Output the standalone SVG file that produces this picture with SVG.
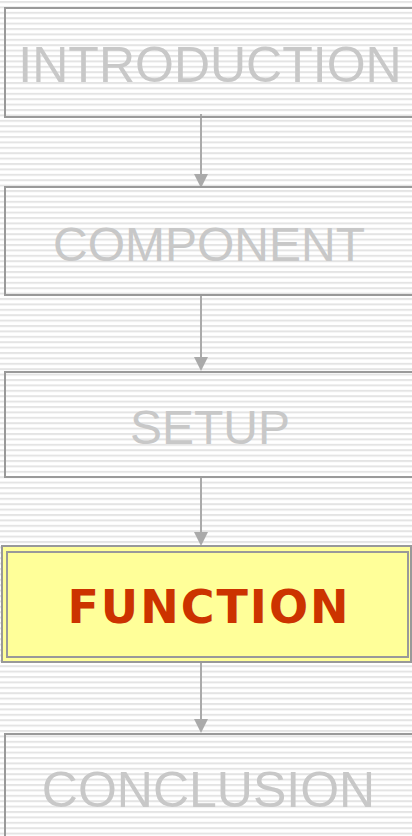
<svg xmlns="http://www.w3.org/2000/svg" width="412" height="836" viewBox="0 0 412 836">
  <defs>
    <pattern id="stripes" patternUnits="userSpaceOnUse" x="0" y="1" width="412" height="5.4">
      <rect x="0" y="0" width="412" height="2" fill="#e4e4e4"/>
    </pattern>
    <style>
      .step { fill: none; stroke: #999999; stroke-width: 2; }
      .label { font-family: "Liberation Sans", Arial, sans-serif; font-size: 48px; fill: #c8c8c8; text-anchor: middle; }
      .wide { font-size: 50px; }
      .active-outer { fill: #ffff99; stroke: #999999; stroke-width: 2; }
      .active-inner { fill: none; stroke: #999999; stroke-width: 2; }
      .active-label { font-family: "DejaVu Sans", Verdana, sans-serif; font-weight: bold; font-size: 46px; fill: #cc3300; text-anchor: middle; letter-spacing: 2px; }
      .link { stroke: #aaaaaa; stroke-width: 2; fill: none; }
      .head { fill: #aaaaaa; }
    </style>
  </defs>

  <!-- striped backdrop -->
  <rect x="0" y="0" width="412" height="836" fill="#ffffff"/>
  <rect x="0" y="0" width="412" height="836" fill="url(#stripes)"/>

  <!-- connectors -->
  <g id="connectors">
    <line class="link" x1="201" y1="114" x2="201" y2="176"/>
    <path class="head" d="M194,174 L208,174 L201,188 Z"/>
    <line class="link" x1="201" y1="295" x2="201" y2="358"/>
    <path class="head" d="M194,357 L208,357 L201,371 Z"/>
    <line class="link" x1="201" y1="477" x2="201" y2="534"/>
    <path class="head" d="M194,532 L208,532 L201,546 Z"/>
    <line class="link" x1="201" y1="662" x2="201" y2="720"/>
    <path class="head" d="M194,719 L208,719 L201,733 Z"/>
  </g>

  <g id="introduction">
    <rect class="step" x="5" y="8" width="420" height="109"/>
    <text class="label wide" x="210" y="82">INTRODUCTION</text>
  </g>

  <g id="component">
    <rect class="step" x="5" y="187" width="420" height="108"/>
    <text class="label" x="209" y="261">COMPONENT</text>
  </g>

  <g id="setup">
    <rect class="step" x="5" y="372" width="420" height="105"/>
    <text class="label" x="210" y="444">SETUP</text>
  </g>

  <g id="function">
    <rect class="active-outer" x="2" y="546" width="409" height="116"/>
    <rect class="active-inner" x="7" y="552" width="401" height="105"/>
    <text class="active-label" x="209" y="623">FUNCTION</text>
  </g>

  <g id="conclusion">
    <rect class="step" x="5" y="734" width="420" height="120"/>
    <text class="label wide" x="208.5" y="807">CONCLUSION</text>
  </g>
</svg>
